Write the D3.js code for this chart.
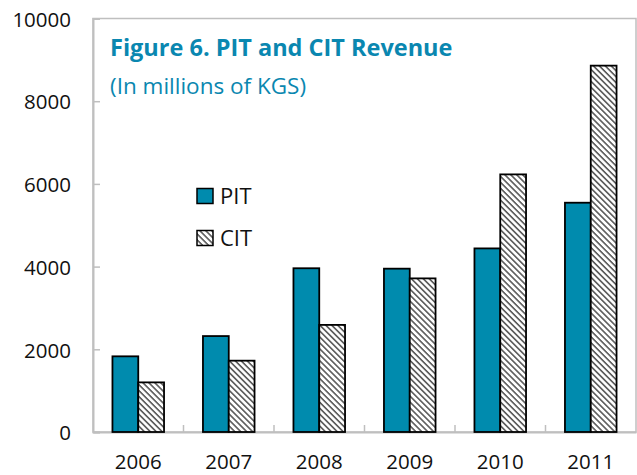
<!DOCTYPE html>
<html lang="en">
<head>
<meta charset="UTF-8">
<title>PIT and CIT Revenue</title>
<script src="https://d3js.org/d3.v7.min.js"></script>
<style>
    body { margin: 0; background: #fff; font-family: 'Open Sans', 'Noto Sans', sans-serif; }
    .axis text { font-size: 20.5px; fill: #111; font-family: 'Open Sans', sans-serif; }
</style>
</head>
<body>
<svg id="chart" width="637" height="475"></svg>
<script>
    var years = ["2006", "2007", "2008", "2009", "2010", "2011"];
    var pit = [1830, 2320, 3960, 3950, 4440, 5545];
    var cit = [1200, 1725, 2590, 3715, 6230, 8860];
    var yTicks = [0, 2000, 4000, 6000, 8000, 10000];
    var seriesNames = ["PIT", "CIT"];

    var margin = { top: 18.5, right: 1, bottom: 43, left: 93 },
        width = 637 - margin.left - margin.right,
        height = 475 - margin.top - margin.bottom;

    var svg = d3.select("#chart");

    var defs = svg.append("defs");
    var pat = defs.append("pattern")
        .attr("id", "hatch")
        .attr("patternUnits", "userSpaceOnUse")
        .attr("width", 4.2).attr("height", 4.2)
        .attr("patternTransform", "rotate(45)");
    pat.append("rect").attr("width", 4.2).attr("height", 4.2).attr("fill", "#fff");
    pat.append("rect").attr("width", 4.2).attr("height", 1.6).attr("fill", "#5a5a5a");

    var g = svg.append("g")
        .attr("transform", "translate(" + margin.left + "," + margin.top + ")");

    var x = d3.scaleBand()
        .domain(years)
        .range([0, width])
        .paddingInner(0.43)
        .paddingOuter(0.215);

    var xs = d3.scaleBand()
        .domain(seriesNames)
        .range([0, x.bandwidth()]);

    var y = d3.scaleLinear()
        .domain([0, 10000])
        .range([height, 0]);

    // plot frame
    g.append("rect")
        .attr("width", width).attr("height", height)
        .attr("fill", "none").attr("stroke", "#bfbfbf").attr("stroke-width", 1.5);

    // y axis
    var yAxis = g.append("g").attr("class", "axis")
        .call(d3.axisRight(y).tickValues(yTicks).tickFormat(d3.format("d")).tickSize(7));
    yAxis.select(".domain").attr("stroke", "#bfbfbf").attr("stroke-width", 2);
    yAxis.selectAll(".tick line").attr("stroke", "#bfbfbf").attr("stroke-width", 1.5);
    yAxis.selectAll(".tick text").attr("text-anchor", "end").attr("x", -22).attr("dy", "0.38em");

    // x axis, ticks between categories
    var step = x.step();
    var xAxis = g.append("g").attr("class", "axis")
        .attr("transform", "translate(0," + height + ")")
        .call(d3.axisBottom(x).tickSize(0));
    xAxis.select(".domain").attr("stroke", "#bfbfbf").attr("stroke-width", 2);
    xAxis.selectAll(".tick text").attr("y", 37).attr("dy", 0);
    g.append("g").selectAll("line")
        .data(years.slice(1))
        .enter().append("line")
        .attr("x1", d => x(d) - x.paddingInner() * step / 2)
        .attr("x2", d => x(d) - x.paddingInner() * step / 2)
        .attr("y1", height).attr("y2", height - 7)
        .attr("stroke", "#bfbfbf").attr("stroke-width", 1.5);

    var rows = years.map((yr, i) => ({ year: yr, PIT: pit[i], CIT: cit[i] }));

    var groups = g.selectAll(".grp")
        .data(rows)
        .enter().append("g")
        .attr("transform", d => "translate(" + x(d.year) + ",0)");

    groups.selectAll("rect")
        .data(d => seriesNames.map(k => ({ key: k, value: d[k] })))
        .enter().append("rect")
        .attr("x", d => xs(d.key))
        .attr("width", xs.bandwidth())
        .attr("y", d => y(d.value))
        .attr("height", d => y(0) - y(d.value))
        .attr("fill", d => d.key === "PIT" ? "#008bae" : "url(#hatch)")
        .attr("stroke", "#000")
        .attr("stroke-width", 1.8);

    // title
    svg.append("text")
        .attr("x", 110).attr("y", 56)
        .attr("font-size", 23.5).attr("font-weight", "bold")
        .attr("fill", "#0a87b0")
        .text("Figure 6. PIT and CIT Revenue");
    svg.append("text")
        .attr("x", 110).attr("y", 94)
        .attr("font-size", 22.5)
        .attr("fill", "#0a87b0")
        .text("(In millions of KGS)");

    // legend
    var legend = svg.append("g");
    seriesNames.forEach(function (k, i) {
        var ly = 188.5 + i * 42;
        legend.append("rect")
            .attr("x", 197).attr("y", ly)
            .attr("width", 16).attr("height", 15)
            .attr("fill", k === "PIT" ? "#008bae" : "url(#hatch)")
            .attr("stroke", "#000").attr("stroke-width", 1.5);
        legend.append("text")
            .attr("x", 220).attr("y", ly + 15)
            .attr("font-size", 22).attr("fill", "#111")
            .text(k);
    });
</script>
</body>
</html>
